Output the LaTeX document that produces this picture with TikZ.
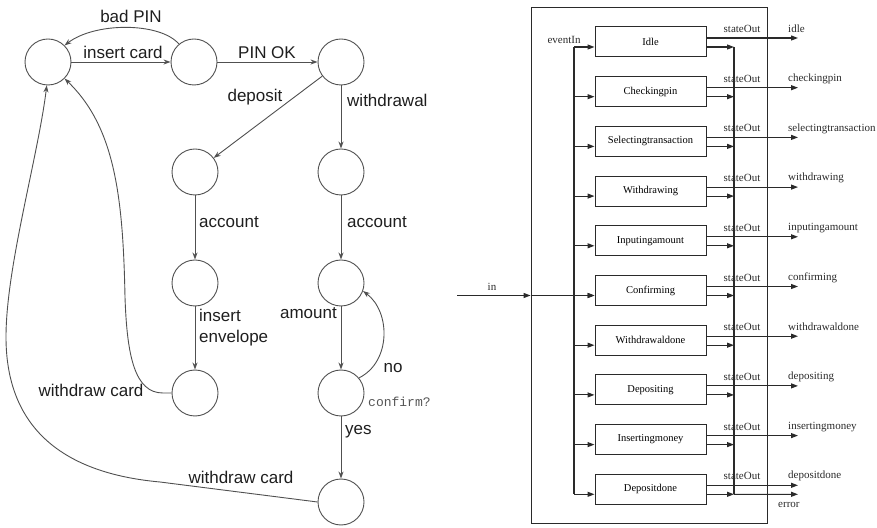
\documentclass[tikz,border=0pt]{standalone}
\usepackage{fontspec}
\setmainfont{Liberation Serif}
\newfontfamily\helv{Liberation Sans}
\newfontfamily\cour{Liberation Mono}
\usetikzlibrary{arrows.meta}
\definecolor{lgray}{HTML}{505050}
\definecolor{ltext}{HTML}{1E1E1E}
\definecolor{bgray}{HTML}{2A2A2A}
\definecolor{mono}{HTML}{555555}
\begin{document}
\begin{tikzpicture}[x=1pt,y=1pt,
  st/.style={circle,draw=lgray,line width=0.9pt,minimum size=46pt,inner sep=0pt},
  ar/.style={draw=lgray,line width=0.9pt,-{Stealth[length=7pt,width=5pt]}},
  lbl/.style={font=\helv\fontsize{17}{21}\selectfont,text=ltext,inner sep=0pt},
  blk/.style={draw=bgray,line width=1pt,minimum width=111pt,minimum height=30pt,inner sep=0pt,font=\fontsize{10.5}{12}\selectfont},
  wire/.style={draw=bgray,line width=1.1pt},
  tip/.style={wire,-{Triangle[length=7pt,width=5pt]}},
  small/.style={font=\fontsize{11}{13}\selectfont,inner sep=0pt,text=bgray},
]
\useasboundingbox (0,0) rectangle (877,527);

% ---------- ATM state machine ----------
\node[st] (A) at (48,465) {};
\node[st] (B) at (194,465) {};
\node[st] (C) at (341,465) {};
\node[st] (D) at (195,355) {};
\node[st] (E) at (341,355) {};
\node[st] (F) at (195,244) {};
\node[st] (G) at (341,244) {};
\node[st] (H) at (195,134) {};
\node[st] (I) at (341,134) {};
\node[st] (J) at (341,25) {};

\draw[ar] (A) -- (B);
\draw[ar] (B.130) .. controls (160,505) and (95,505) .. (A.45);
\draw[ar] (B) -- (C);
\draw[ar] (C) -- (D);
\draw[ar] (C) -- (E);
\draw[ar] (D) -- (F);
\draw[ar] (E) -- (G);
\draw[ar] (F) -- (H);
\draw[ar] (G) -- (I);
\draw[ar] (I) -- (J);
\draw[ar] (I.40) .. controls (391,165) and (391,215) .. (G.-20);
\coordinate (h1) at (163,134);
\draw[ar] (H.west) -- (h1) .. controls (135,134) and (127,170) .. (125,230)
  .. controls (123,330) and (115,400) .. (A.-45);
\coordinate (j1) at (160,45);
\draw[ar] (J.west) -- (j1) .. controls (50,55) and (6,110) .. (6,190)
  .. controls (6,260) and (38,370) .. (A.-93);

\node[lbl] (tBad) at (131,511) {bad PIN};
\node[lbl] (tIns) at (123,475) {insert card};
\node[lbl] (tOk) at (267,474) {PIN OK};
\node[lbl] (tDep) at (255,430) {deposit};
\node[lbl,anchor=west] (tWd) at (347,427) {withdrawal};
\node[lbl,anchor=west] (tAc1) at (199,305) {account};
\node[lbl,anchor=west] (tAc2) at (347,305) {account};
\node[lbl,anchor=west,align=left] (tEnv) at (199,199) {insert\\envelope};
\node[lbl,anchor=east] (tAmt) at (337,214) {amount};
\node[lbl] (tNo) at (393,159) {no};
\node[anchor=west,inner sep=0pt,font=\cour\fontsize{13}{15}\selectfont,text=mono] (tConf) at (368,125) {confirm?};
\node[lbl,anchor=west] (tYes) at (345,95) {yes};
\node[lbl] (tWc1) at (91,137) {withdraw card};
\node[lbl] (tWc2) at (241,50) {withdraw card};

% ---------- block diagram ----------
\node[draw=bgray,line width=0.9pt,minimum width=236pt,minimum height=516pt,inner sep=0pt] (frame) at (649,262) {};

\foreach \lab/\out [count=\i from 0] in {Idle/idle,Checkingpin/checkingpin,
  Selectingtransaction/selectingtransaction,Withdrawing/withdrawing,
  Inputingamount/inputingamount,Confirming/confirming,
  Withdrawaldone/withdrawaldone,Depositing/depositing,
  Insertingmoney/insertingmoney,Depositdone/depositdone}{
  \pgfmathsetmacro\yc{485-49.7*\i}
  \node[blk] (b\i) at (650.5,\yc) {\lab};
  \coordinate (bl\i) at (574,\yc-5);
  \coordinate (br\i) at (734,\yc-5);
  \coordinate (o\i) at (798,\yc+4);
  \draw[tip] (bl\i) -- ([yshift=-5pt]b\i.west);
  \draw[tip] ([yshift=4pt]b\i.east) -- (o\i);
  \draw[tip] ([yshift=-5pt]b\i.east) -- (br\i);
  \node[small] (so\i) at (742,\yc+13) {stateOut};
  \node[small,anchor=west] (on\i) at (788,\yc+13) {\out};
}
\draw[wire] (bl0) -- (bl9);
\draw[wire] (br0) -- (br9);
\coordinate (err) at (798,32.7);
\draw[tip] (br9) -- (err);
\node[small,anchor=west] (tErr) at (778,22) {error};
\node[small] (tEv) at (564,487) {eventIn};

\coordinate (src) at (457,231.5);
\coordinate (fin) at (frame.west |- bl5);
\draw[tip] (src) -- (fin);
\draw[tip] (fin) -- ([yshift=-5pt]b5.west);
\node[small] (tIn) at (492,240) {in};
\end{tikzpicture}
\end{document}
